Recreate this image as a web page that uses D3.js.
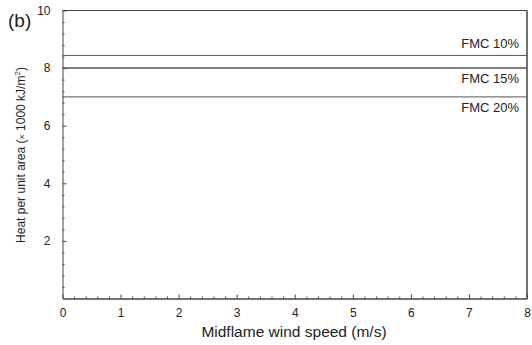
<!DOCTYPE html>
<html>
<head>
<meta charset="utf-8">
<script src="https://cdn.jsdelivr.net/npm/d3@7"></script>
<style>
  body { margin: 0; background: #fff; }
  text { font-family: "Liberation Sans", Arial, sans-serif; fill: #222; }
</style>
</head>
<body>
<div id="canvas"></div>
<script>
// FMC lines (constant heat per unit area)
var seriesNames = ["FMC 10%", "FMC 15%", "FMC 20%"];
var seriesValues = [8.44, 8.0, 7.0];
var windSpeed = [0, 8];
var xTicks = [0, 1, 2, 3, 4, 5, 6, 7, 8];
var yTicks = [2, 4, 6, 8, 10];

var width = 532, height = 345;
var margin = {left: 62.5, right: 5, top: 10.5, bottom: 46.5};
var w = width - margin.left - margin.right;
var h = height - margin.top - margin.bottom;

var svg = d3.select("#canvas").append("svg")
  .attr("width", width)
  .attr("height", height);
var g = svg.append("g")
  .attr("transform", "translate(" + margin.left + "," + margin.top + ")");

var x = d3.scaleLinear().domain([0, 8]).range([0, w]);
var y = d3.scaleLinear().domain([0, 10]).range([h, 0]);

var stroke = "#444";

// minor ticks
var xMinor = d3.range(0, 8.001, 0.2).filter((d) => Math.abs(d - Math.round(d)) > 0.01);
var yMinor = d3.range(0, 10.001, 0.4).filter((d) => Math.abs(d / 2 - Math.round(d / 2)) > 0.01);

g.append("g")
  .attr("transform", "translate(0," + h + ")")
  .call(d3.axisBottom(x).tickValues(xMinor).tickSize(-2).tickFormat(""))
  .call((s) => s.select(".domain").remove())
  .selectAll("line").attr("stroke", stroke);
g.append("g")
  .call(d3.axisLeft(y).tickValues(yMinor).tickSize(-2).tickFormat(""))
  .call((s) => s.select(".domain").remove())
  .selectAll("line").attr("stroke", stroke);

// major axes
var xAxis = g.append("g")
  .attr("transform", "translate(0," + h + ")")
  .call(d3.axisBottom(x).tickValues(xTicks).tickSize(-4).tickPadding(10).tickSizeOuter(0));
xAxis.select(".domain").attr("stroke", stroke).attr("stroke-width", 1.5);
xAxis.selectAll("line").attr("stroke", stroke);
xAxis.selectAll("text").attr("font-size", "12px").attr("font-family", "Liberation Sans, Arial, sans-serif").attr("fill", "#222");

var yAxis = g.append("g")
  .call(d3.axisLeft(y).tickValues(yTicks).tickSize(-4).tickPadding(12).tickSizeOuter(0));
yAxis.select(".domain").attr("stroke", stroke).attr("stroke-width", 1);
yAxis.selectAll("line").attr("stroke", stroke);
yAxis.selectAll("text").attr("font-size", "12px").attr("font-family", "Liberation Sans, Arial, sans-serif").attr("fill", "#222");

// top and right frame
g.append("line").attr("x1", 0).attr("x2", w).attr("y1", 0).attr("y2", 0)
  .attr("stroke", stroke);
g.append("line").attr("x1", w).attr("x2", w).attr("y1", 0).attr("y2", h)
  .attr("stroke", stroke).attr("stroke-width", 1.5);

// series lines
var line = d3.line().x((d) => x(d[0])).y((d) => y(d[1]));
seriesValues.forEach((v, i) => {
  g.append("path")
    .datum(windSpeed.map((s) => [s, v]))
    .attr("d", line)
    .attr("fill", "none")
    .attr("stroke", "#555")
    .attr("stroke-width", i == 1 ? 1.5 : 1);
});

// series labels
var labelY = [48, 83, 112];
seriesNames.forEach((n, i) => {
  svg.append("text")
    .attr("x", 519)
    .attr("y", labelY[i])
    .attr("text-anchor", "end")
    .attr("font-size", "13px")
    .text(n);
});

// X label
svg.append("text")
  .attr("x", 294)
  .attr("y", 337)
  .attr("text-anchor", "middle")
  .attr("font-size", "15.5px")
  .text("Midflame wind speed (m/s)");

// Y label
var yl = svg.append("text")
  .attr("transform", "translate(25,155) rotate(-90)")
  .attr("text-anchor", "middle")
  .attr("font-size", "12px");
yl.append("tspan").text("Heat per unit area (");
yl.append("tspan").attr("font-size", "9px").text("\u00d7");
yl.append("tspan").text(" 1000 kJ/m");
yl.append("tspan").attr("font-size", "8px").attr("dy", -5).text("2");
yl.append("tspan").attr("dy", 5).text(")");

// panel letter
svg.append("text")
  .attr("x", 8)
  .attr("y", 27)
  .attr("font-size", "19px")
  .text("(b)");
</script>
</body>
</html>
